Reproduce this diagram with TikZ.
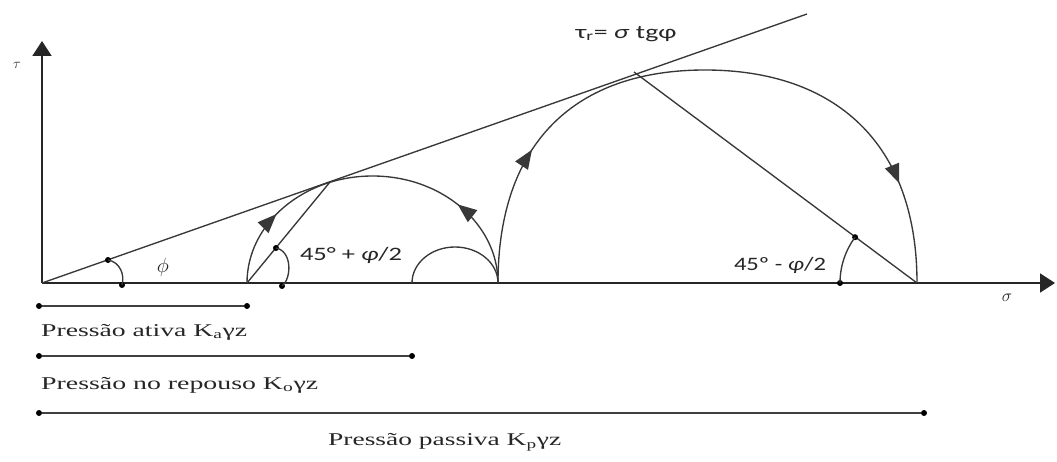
\documentclass[tikz,border=0pt]{standalone}
\usepackage{fontspec}
\usepackage{graphicx}
\setmainfont{Liberation Serif}
\newfontfamily\labelsf{Carlito}
\usetikzlibrary{arrows.meta,decorations.markings}

\tikzset{
  ln/.style={line width=1.35pt, draw=black!78},
  axisline/.style={line width=1.9pt, draw=black!85, -{Triangle[length=15pt,width=19pt]}},
  dot/.style={circle, fill=black, inner sep=0pt, minimum size=6pt},
  barline/.style={line width=1.6pt, draw=black!75},
  fwd/.style={postaction={decorate, decoration={markings, mark=at position #1 with {\arrow{Triangle[length=19pt,width=15pt]}}}}},
  bwd/.style={postaction={decorate, decoration={markings, mark=at position #1 with {\arrowreversed{Triangle[length=19pt,width=15pt]}}}}},
  lbl/.style={inner sep=0pt, anchor=west, text=black!85, font=\fontsize{18}{20}\selectfont},
  sflbl/.style={inner sep=0pt, text=black!85, font=\labelsf\fontsize{19}{21}\selectfont},
}

\begin{document}
\begin{tikzpicture}[x=1pt,y=1pt]
\useasboundingbox (0,0) rectangle (1057,461);

% axes
\coordinate (O) at (42,178);
\coordinate (Ytop) at (42,420);
\coordinate (Xend) at (1055,178);
\draw[axisline] (O) -- (Ytop);
\draw[axisline] (O) -- (Xend);
\node[sflbl, font=\fontsize{15}{16}\selectfont] (tau) at (17,396) {$\tau$};
\node[sflbl, font=\fontsize{17}{18}\selectfont] (sig) at (1007,163) {$\sigma$};

% failure envelope
\coordinate (Fend) at (807,447);
\draw[ln] (O) -- (Fend);
\node[sflbl] (env) at (626,427) {\resizebox{101pt}{\height}{τ\textsubscript{r}= \textit{σ} tgφ}};

% key points on sigma axis
\coordinate (A) at (247,178);   % active
\coordinate (V) at (498,178);   % vertical stress
\coordinate (R) at (412,178);   % at rest
\coordinate (P) at (917,178);   % passive
\coordinate (Ta) at (330,279);  % tangent point, active
\coordinate (Tp) at (634,389);  % tangent point, passive

% circles
\draw[ln, fwd=0.25, bwd=0.79] (V) arc[start angle=0, end angle=180, x radius=125.5, y radius=107];
\draw[ln] (V) arc[start angle=0, end angle=180, x radius=43, y radius=36];
\draw[ln, fwd=0.205, fwd=0.85] (V) .. controls (498,318) and (575,391) .. (705,391)
      .. controls (835,391) and (917,318) .. (P);

% radius lines
\draw[ln] (A) -- (Ta);
\draw[ln] (P) -- (Tp);

% angle phi
\node[dot] (p1) at (108,201) {};
\node[dot] (p2) at (122,176) {};
\draw[ln] (p1.center) .. controls (120,199) and (125,186) .. (p2.center);
\node[sflbl, font=\fontsize{22}{24}\selectfont] (phil) at (163,194) {$\phi$};

% angle 45 + phi/2
\node[dot] (a1) at (276,213) {};
\node[dot] (a2) at (282,175) {};
\draw[ln] (a1.center) .. controls (292,210) and (292,183) .. (a2.center);
\node[sflbl] (la) at (351,206) {\resizebox{102pt}{\height}{45° + \textit{φ}/2}};

% angle 45 - phi/2
\node[dot] (b1) at (840,178) {};
\node[dot] (b2) at (855.1,223.8) {};
\draw[ln] (b1.center) arc[start angle=180, end angle=143.5, radius=77];
\node[sflbl] (lb) at (780,196) {\resizebox{92pt}{\height}{45º - \textit{φ}/2}};

% pressure bars
\node[dot] (d1a) at (39,155) {};
\node[dot] (d1b) at (247,155) {};
\draw[barline] (d1a) -- (d1b);
\node[lbl] (t1) at (41,129) {\resizebox{206pt}{\height}{Pressão ativa K\textsubscript{a}γz}};

\node[dot] (d2a) at (39,105) {};
\node[dot] (d2b) at (412,105) {};
\draw[barline] (d2a) -- (d2b);
\node[lbl] (t2) at (41,76) {\resizebox{277pt}{\height}{Pressão no repouso K\textsubscript{o}γz}};

\node[dot] (d3a) at (39,48) {};
\node[dot] (d3b) at (924,48) {};
\draw[barline] (d3a) -- (d3b);
\node[lbl] (t3) at (328,19) {\resizebox{233pt}{\height}{Pressão passiva K\textsubscript{p}γz}};
\end{tikzpicture}
\end{document}
